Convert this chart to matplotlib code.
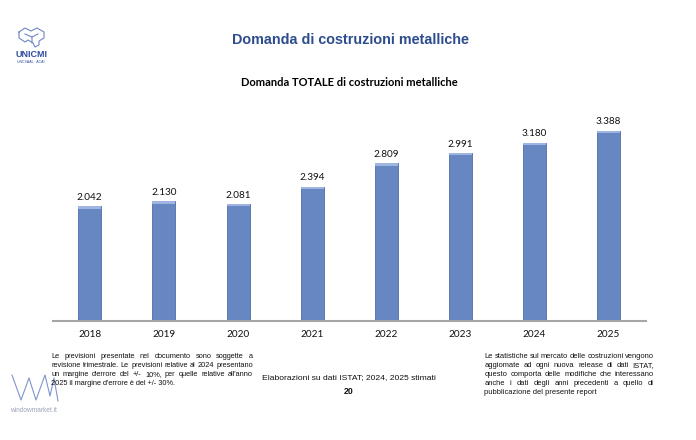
import matplotlib.pyplot as plt
import numpy as np

years = ['2018', '2019', '2020', '2021', '2022', '2023', '2024', '2025']
values = [2.042, 2.130, 2.081, 2.394, 2.809, 2.991, 3.180, 3.388]
labels = ['2.042', '2.130', '2.081', '2.394', '2.809', '2.991', '3.180', '3.388']

title = 'Domanda di costruzioni metalliche'
subtitle = 'Domanda TOTALE di costruzioni metalliche'
note_left = ["Le previsioni presentate nel documento sono soggette a",
             "revisione trimestrale. Le previsioni relative al 2024 presentano",
             "un margine d'errore  del +/- 10%, per quelle relative all'anno",
             "2025 il margine d'errore è del +/- 30%."]
note_right = ["Le statistiche sul mercato delle costruzioni vengono",
              "aggiomate ad ogni nuova release di dati ISTAT,",
              "questo comporta delle modifiche che interessano",
              "anche i dati degli anni precedenti a quello di",
              "pubblicazione del presente report"]
source = 'Elaborazioni su dati ISTAT; 2024, 2025 stimati'
page = '20'

W, H = 696, 440
fig = plt.figure(figsize=(W / 100, H / 100), dpi=100)

# axes: x from 52.7 to 645.7 px, baseline at y=320.7 px, 56 px per unit
ymax = 4.0
ax = fig.add_axes([52.7 / W, (H - 320.7) / H, 593 / W, ymax * 56 / H])
x = np.arange(len(years))
ax.bar(x, values, width=0.31, color='#6787C3', edgecolor='#4E6DA6', linewidth=0.6, zorder=2)
# lighter top cap
ax.bar(x, [0.04] * len(values), bottom=np.array(values) - 0.04, width=0.31,
       color='#9DB5E0', linewidth=0, zorder=3)
for xi, v, lab in zip(x, values, labels):
    ax.text(xi, v + 0.08, lab, ha='center', va='bottom', fontsize=7.2, family='Lato', color='#111111')
ax.set_xlim(-0.5, len(years) - 0.5)
ax.set_ylim(0, ymax)
ax.set_xticks(x)
ax.set_xticklabels(years, fontsize=7.2, family='Lato', color='#111111')
ax.tick_params(axis='x', length=0, pad=7)
ax.set_yticks([])
for s in ['left', 'right', 'top']:
    ax.spines[s].set_visible(False)
ax.spines['bottom'].set_color('#A6A6A6')
ax.spines['bottom'].set_linewidth(1.5)

# overlay in pixel coordinates for texts and logos
over = fig.add_axes([0, 0, 1, 1], zorder=5)
over.set_xlim(0, W)
over.set_ylim(H, 0)
over.axis('off')

over.text(351, 40, title, ha='center', va='center', fontsize=10.4, fontweight='bold',
          family='Liberation Sans', color='#2E4D8E')
over.text(349, 82, subtitle, ha='center', va='center', fontsize=8.0, fontweight='bold',
          family='Lato', color='#000000')
over.text(349, 378, source, ha='center', va='center', fontsize=6.1, family='Liberation Sans',
          color='#111111')
over.text(349, 391, page, ha='center', va='center', fontsize=6.3, fontweight='bold',
          family='Liberation Sans', color='#111111')

renderer = fig.canvas.get_renderer()


def word_width(word, size):
    t = over.text(0, 0, word, fontsize=size, family='Liberation Sans')
    w = t.get_window_extent(renderer).width
    t.remove()
    return w


def justified(lines, x0, x1, y0, step, size):
    for i, line in enumerate(lines):
        y = y0 + i * step
        words = line.split()
        if i == len(lines) - 1 or len(words) == 1:
            over.text(x0, y, line, ha='left', va='baseline', fontsize=size,
                      family='Liberation Sans', color='#111111')
            continue
        widths = [word_width(wd, size) for wd in words]
        gap = (x1 - x0 - sum(widths)) / (len(words) - 1)
        xp = x0
        for wd, wdt in zip(words, widths):
            over.text(xp, y, wd, ha='left', va='baseline', fontsize=size,
                      family='Liberation Sans', color='#111111')
            xp += wdt + gap


justified(note_left, 51, 253, 357.5, 9.1, 5.3)
justified(note_right, 484.5, 654, 357.5, 9.1, 5.4)

# UNICMI logo
logo_col = '#6F86C6'
cube = [(19, 32), (25, 28), (31, 31), (37, 28), (44, 32), (44, 38), (39, 41), (39, 45),
        (35, 47), (33, 43), (28, 40), (25, 42), (19, 38), (19, 32)]
over.plot([p[0] for p in cube], [p[1] for p in cube], color=logo_col, lw=0.8)
over.plot([25, 32, 32], [34, 37, 43], color=logo_col, lw=0.8)
over.plot([32, 38], [37, 34], color=logo_col, lw=0.8)
over.text(31, 54.5, 'UNICMI', ha='center', va='center', fontsize=6.5, fontweight='bold',
          family='Liberation Sans', color='#2E4D9E')
over.text(31, 62, 'UNCSAAL · ACAI', ha='center', va='center', fontsize=2.5,
          family='Liberation Sans', color='#2E4D9E')

# windowmarket logo
wm = [(12, 375), (21, 400), (29, 378), (36, 400), (45, 375), (50, 396), (54, 378), (58, 401)]
over.plot([p[0] for p in wm], [p[1] for p in wm], color='#7F95CC', lw=0.8)
over.text(33, 410, 'windowmarket.it', ha='center', va='center', fontsize=4.7,
          family='Liberation Sans', color='#9AA3B5')

fig.savefig('out.png', dpi=100)
